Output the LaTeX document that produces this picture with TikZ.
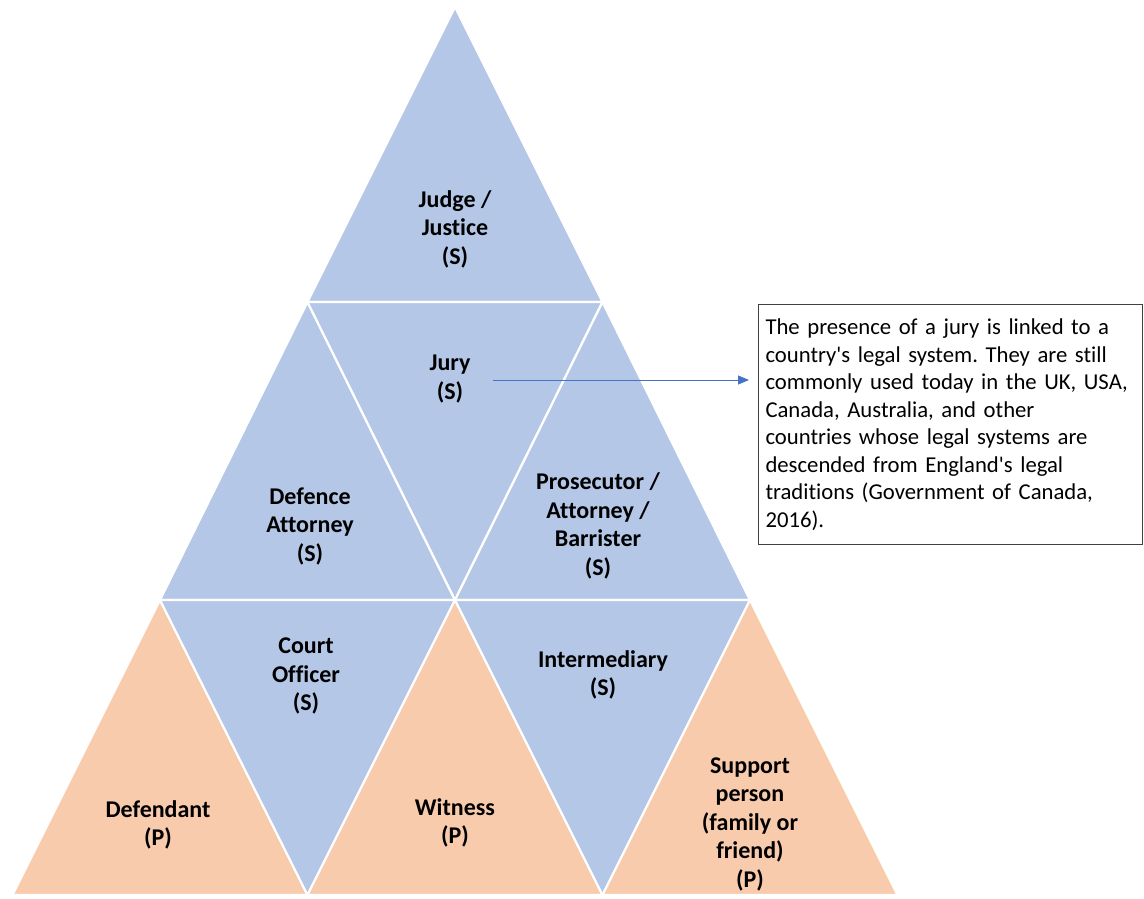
\documentclass[tikz,border=0pt]{standalone}
\usepackage{fontspec}
\setmainfont[Ligatures={NoCommon}]{Carlito}
\usetikzlibrary{arrows.meta}
\definecolor{tileblue}{HTML}{B4C7E7}
\definecolor{tilepeach}{HTML}{F8CBAD}
\definecolor{arrowblue}{HTML}{4472C4}
\definecolor{boxgray}{HTML}{404040}
\newcommand{\q}{\textquotesingle}
\frenchspacing
\begin{document}
\begin{tikzpicture}[x=1pt,y=-1pt,
  tileS/.style={fill=tileblue,draw=white,line width=2.2pt,line join=miter},
  tileP/.style={fill=tilepeach,draw=white,line width=2.2pt,line join=miter},
  lbl/.style={font=\fontsize{24}{28.5}\selectfont\bfseries,align=center,text=black,inner sep=0pt},
  note/.style={draw=boxgray,line width=1pt,fill=white,font=\fontsize{22.7}{27.5}\selectfont,align=left,minimum width=384pt,minimum height=240pt,text width=370pt,inner xsep=7pt,inner ysep=4pt,anchor=north west},
  link/.style={draw=arrowblue,line width=0.9pt,-{Triangle[length=11pt,width=9pt]}}]
\useasboundingbox (0,0) rectangle (1144,898);
% grid coordinates
\coordinate (A) at (455,7);
\coordinate (B1) at (307.5,302); \coordinate (B2) at (602.5,302);
\coordinate (C1) at (160,600); \coordinate (C2) at (455,600); \coordinate (C3) at (750,600);
\coordinate (D1) at (12.5,895); \coordinate (D2) at (307.5,895); \coordinate (D3) at (602.5,895); \coordinate (D4) at (897.5,895);
% tiles
\draw[tileS] (A) -- (B2) -- (B1) -- cycle;
\draw[tileS] (B1) -- (C2) -- (C1) -- cycle;
\draw[tileS] (B1) -- (B2) -- (C2) -- cycle;
\draw[tileS] (B2) -- (C3) -- (C2) -- cycle;
\draw[tileP] (C1) -- (D2) -- (D1) -- cycle;
\draw[tileS] (C1) -- (C2) -- (D2) -- cycle;
\draw[tileP] (C2) -- (D3) -- (D2) -- cycle;
\draw[tileS] (C2) -- (C3) -- (D3) -- cycle;
\draw[tileP] (C3) -- (D4) -- (D3) -- cycle;
% labels
\node[lbl] (judge) at (455,229) {Judge /\\Justice\\(S)};
\node[lbl] (jury) at (450,379) {Jury\\(S)};
\node[lbl] (defence) at (310,526) {Defence\\Attorney\\(S)};
\node[lbl] (prosecutor) at (598,526) {Prosecutor /\\Attorney /\\Barrister\\(S)};
\node[lbl] (court) at (306,676) {Court\\Officer\\(S)};
\node[lbl] (inter) at (603,675) {Intermediary\\(S)};
\node[lbl] (defendant) at (158,825) {Defendant\\(P)};
\node[lbl] (witness) at (455,823) {Witness\\(P)};
\node[lbl] (support) at (750,824) {Support\\person\\(family or\\friend)\\(P)};
% note
\node[note] (box) at (758,304) {The presence of a jury is linked to a\\country\q s legal system. They are still\\commonly used today in the UK, USA,\\Canada, Australia, and other\\countries whose legal systems are\\descended from England\q s legal\\traditions (Government of Canada,\\2016).};
\coordinate (arrowstart) at (493,380);
\coordinate (arrowend) at (749,380);
\draw[link] (arrowstart) -- (arrowend);
\end{tikzpicture}
\end{document}
